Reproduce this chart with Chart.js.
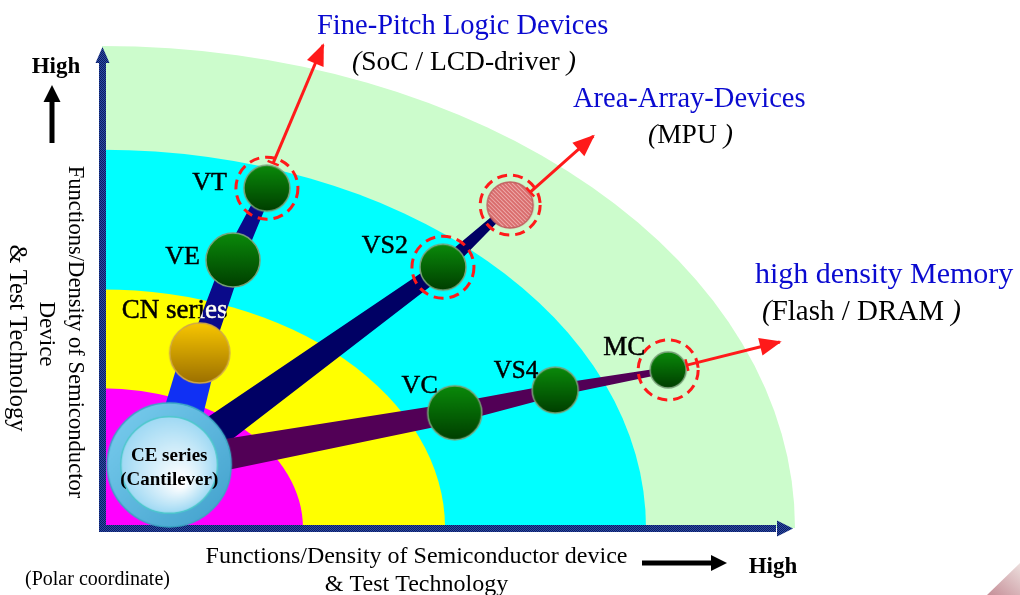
<!DOCTYPE html>
<html>
<head>
<meta charset="utf-8">
<script src="https://cdn.jsdelivr.net/npm/chart.js@4.4.1/dist/chart.umd.min.js"></script>
<style>
  html, body { margin: 0; padding: 0; background: #fff; }
  #wrap { width: 1020px; height: 595px; position: relative; }
</style>
</head>
<body>
<div id="wrap"><canvas id="chart" width="1020" height="595"></canvas></div>
<script>
// Dữ liệu (toạ độ cực: 0..100 trên cả hai trục)
const nodeNames  = ['CE', 'CN', 'VE', 'VT', 'VS2', 'MPU', 'VC', 'VS4', 'MC'];
const nodeX      = [9.7, 14.1, 18.9, 23.8, 49.2, 58.9, 50.9, 65.4, 81.7];
const nodeY      = [13.1, 36.3, 55.6, 70.5, 54.1, 67.0, 23.9, 28.6, 32.8];
const nodeLabels = ['', 'CN series', 'VE', 'VT', 'VS2', '', 'VC', 'VS4', 'MC'];
const ceLabel    = ['CE series', '(Cantilever)'];

const ringRadius = [100, 78.5, 49.5, 29];

// nhánh nối các node
const branches = [
  ['CE', 'CN'],
  ['CN', 'VE', 'VT'],
  ['CE', 'VS2', 'MPU'],
  ['CE', 'VC', 'VS4', 'MC']
];

// node được khoanh tròn
const targetNodes = ['VT', 'VS2', 'MPU', 'MC'];

// mũi tên đỏ
const arrowStartX = [24.7, 61.8, 84.4];
const arrowStartY = [75.7, 69.7, 33.8];
const arrowEndX   = [31.9, 70.9, 97.8];
const arrowEndY   = [100.2, 81.3, 38.6];
const arrowTitles    = ['Fine-Pitch Logic Devices', 'Area-Array-Devices', 'high density Memory'];
const arrowSubtitles = ['SoC / LCD-driver', 'MPU', 'Flash / DRAM'];

const axisTitleX = ['Functions/Density of Semiconductor device', '& Test Technology'];
const axisTitleY = ['Functions/Density of Semiconductor', 'Device', '& Test Technology'];

// Kiểu dáng
const ringColors   = ['#ccfccc', '#00ffff', '#ffff00', '#ff00ff'];
const branchColors = ['#1030f4', '#0a0a8a', '#000064', '#520056'];
const branchWidths = [[42, 36], [24, 20, 12], [36, 15, 6], [34, 20, 12, 6]];
const nodeRadius   = [62, 30, 27, 23, 23, 23, 27, 23, 18];
const labelOffset  = [null, [-25, -35, 'center'], [-33, 4, 'right'], [-40, 2, 'right'], [-35, -14, 'right'],
                      null, [-17, -20, 'right'], [-17, -12, 'right'], [-23, -15, 'right']];
const labelSize    = [0, 27, 26, 26, 26, 0, 26, 25, 27];
const titlePos     = [[317, 34, 352, 70], [573, 107, 648, 143], [755, 283, 762, 320]];
const titleSize    = [[28.5, 27.5], [28.5, 27.5], [30, 29]];
const yTitlePos    = [[75, 332, 22.6], [46, 334, 23], [16, 338, 24.5]];
const SERIF = '"Liberation Serif", "DejaVu Serif", serif';
const RED = '#ff1a1a';

// Hàm vẽ quả cầu
function makeBall(r, c1, c2, rim) {
  const s = 2 * r + 4;
  const cv = document.createElement('canvas');
  cv.width = cv.height = s;
  const g = cv.getContext('2d');
  const grd = g.createLinearGradient(0, 2, 0, s - 2);
  grd.addColorStop(0, c1);
  grd.addColorStop(1, c2);
  g.beginPath();
  g.arc(s / 2, s / 2, r, 0, Math.PI * 2);
  g.fillStyle = grd;
  g.fill();
  g.lineWidth = 1.5;
  g.strokeStyle = rim;
  g.stroke();
  return cv;
}

function makeHatchBall(r) {
  const s = 2 * r + 4;
  const cv = document.createElement('canvas');
  cv.width = cv.height = s;
  const g = cv.getContext('2d');
  g.save();
  g.beginPath();
  g.arc(s / 2, s / 2, r, 0, Math.PI * 2);
  g.clip();
  g.fillStyle = '#f6c4c4';
  g.fillRect(0, 0, s, s);
  g.strokeStyle = '#d86a6a';
  g.lineWidth = 2;
  for (let k = -s; k < 2 * s; k += 4) {
    g.beginPath();
    g.moveTo(k, 0);
    g.lineTo(k + s, s);
    g.stroke();
  }
  g.restore();
  g.beginPath();
  g.arc(s / 2, s / 2, r, 0, Math.PI * 2);
  g.lineWidth = 1.5;
  g.strokeStyle = '#c26060';
  g.stroke();
  return cv;
}

function makeCeBall(r) {
  const s = 2 * r + 4, c = s / 2;
  const cv = document.createElement('canvas');
  cv.width = cv.height = s;
  const g = cv.getContext('2d');
  const outer = g.createLinearGradient(0, 0, s, s);
  outer.addColorStop(0, '#7ccff0');
  outer.addColorStop(1, '#3f9fcb');
  g.beginPath();
  g.arc(c, c, r, 0, Math.PI * 2);
  g.fillStyle = outer;
  g.fill();
  g.lineWidth = 1.5;
  g.strokeStyle = '#3aa7c4';
  g.stroke();
  const ri = r * 0.78;
  const inner = g.createRadialGradient(c + 12, c + 18, 4, c, c, ri);
  inner.addColorStop(0, '#ffffff');
  inner.addColorStop(1, '#9fd9f4');
  g.beginPath();
  g.arc(c, c, ri, 0, Math.PI * 2);
  g.fillStyle = inner;
  g.fill();
  g.lineWidth = 1.5;
  g.strokeStyle = '#4cc8cc';
  g.stroke();
  return cv;
}

const nodeStyles = nodeNames.map((n, i) => {
  if (n === 'CE') return makeCeBall(nodeRadius[i]);
  if (n === 'CN') return makeBall(nodeRadius[i], '#f8c600', '#9c7000', '#d0a848');
  if (n === 'MPU') return makeHatchBall(nodeRadius[i]);
  return makeBall(nodeRadius[i], '#0a8a0a', '#003e00', '#7aa27a');
});

const idx = name => nodeNames.indexOf(name);

// Plugin: vòng nền, trục, các nhánh
const backdropPlugin = {
  id: 'backdrop',
  beforeDatasetsDraw(chart) {
    const { ctx, chartArea: a, scales: { x, y } } = chart;
    const ox = x.getPixelForValue(0), oy = y.getPixelForValue(0);
    ctx.save();
    ringRadius.forEach((r, i) => {
      const rx = x.getPixelForValue(r) - ox, ry = oy - y.getPixelForValue(r);
      ctx.beginPath();
      ctx.moveTo(ox, oy);
      ctx.ellipse(ox, oy, rx, ry, 0, -Math.PI / 2, 0);
      ctx.closePath();
      ctx.fillStyle = ringColors[i];
      ctx.fill();
    });

    // trục hoạ tiết ô vuông
    const pc = document.createElement('canvas');
    pc.width = pc.height = 2;
    const pg = pc.getContext('2d');
    pg.fillStyle = '#2b4ba8'; pg.fillRect(0, 0, 2, 2);
    pg.fillStyle = '#0d1d5e'; pg.fillRect(0, 0, 1, 1); pg.fillRect(1, 1, 1, 1);
    const pat = ctx.createPattern(pc, 'repeat');
    ctx.fillStyle = pat;
    ctx.fillRect(ox - 3, a.top + 16, 7, oy - a.top - 12);
    ctx.fillRect(ox - 3, oy - 3, a.right - 16 - ox, 7);
    ctx.beginPath();
    ctx.moveTo(ox - 6.5, a.top + 17); ctx.lineTo(ox + 0.5, a.top + 1); ctx.lineTo(ox + 7.5, a.top + 17);
    ctx.closePath(); ctx.fill();
    ctx.beginPath();
    ctx.moveTo(a.right - 18, oy - 7.5); ctx.lineTo(a.right - 2, oy + 0.5); ctx.lineTo(a.right - 18, oy + 8.5);
    ctx.closePath(); ctx.fill();

    // các nhánh thuôn nhỏ dần
    chart.$barPaths = [];
    branches.forEach((br, bi) => {
      const pts = br.map(n => ({ x: x.getPixelForValue(nodeX[idx(n)]), y: y.getPixelForValue(nodeY[idx(n)]) }));
      const w = branchWidths[bi];
      const left = [], right = [];
      pts.forEach((p, i) => {
        const a0 = pts[Math.max(0, i - 1)], b0 = pts[Math.min(pts.length - 1, i + 1)];
        let dx = b0.x - a0.x, dy = b0.y - a0.y;
        const L = Math.hypot(dx, dy); dx /= L; dy /= L;
        const h = w[i] / 2;
        left.push([p.x - dy * h, p.y + dx * h]);
        right.push([p.x + dy * h, p.y - dx * h]);
      });
      const path = new Path2D();
      path.moveTo(left[0][0], left[0][1]);
      left.slice(1).forEach(q => path.lineTo(q[0], q[1]));
      right.reverse().forEach(q => path.lineTo(q[0], q[1]));
      path.closePath();
      ctx.fillStyle = branchColors[bi];
      ctx.fill(path);
      chart.$barPaths.push(path);
    });
    ctx.restore();
  },
  beforeDatasetDraw(chart, args) {
    if (chart.data.datasets[args.index].dashed) {
      chart.ctx.save();
      chart.ctx.setLineDash([10, 6]);
    }
  },
  afterDatasetDraw(chart, args) {
    if (chart.data.datasets[args.index].dashed) chart.ctx.restore();
  }
};

// Plugin: đầu mũi tên và chữ
function richText(ctx, parts, x, yb, size) {
  let cx = x;
  parts.forEach(p => {
    ctx.font = (p.it ? 'italic ' : '') + size + 'px ' + SERIF;
    ctx.fillText(p.t, cx, yb);
    cx += ctx.measureText(p.t).width;
  });
}

function arrow(ctx, x1, y1, x2, y2, len, half, color, lw) {
  const ang = Math.atan2(y2 - y1, x2 - x1);
  const bx = x2 - Math.cos(ang) * len, by = y2 - Math.sin(ang) * len;
  ctx.strokeStyle = color; ctx.fillStyle = color; ctx.lineWidth = lw;
  ctx.beginPath(); ctx.moveTo(x1, y1); ctx.lineTo(bx, by); ctx.stroke();
  ctx.beginPath();
  ctx.moveTo(x2, y2);
  ctx.lineTo(bx - Math.sin(ang) * half, by + Math.cos(ang) * half);
  ctx.lineTo(bx + Math.sin(ang) * half, by - Math.cos(ang) * half);
  ctx.closePath(); ctx.fill();
}

const labelPlugin = {
  id: 'labels',
  afterDatasetsDraw(chart) {
    const { ctx, chartArea: a } = chart;
    ctx.save();
    // đầu mũi tên đỏ
    chart.data.datasets.forEach((ds, di) => {
      if (!ds.isArrow) return;
      const pts = chart.getDatasetMeta(di).data;
      const p0 = pts[0], p1 = pts[pts.length - 1];
      const ang = Math.atan2(p1.y - p0.y, p1.x - p0.x);
      ctx.fillStyle = RED;
      const len = 20, half = 9;
      const bx = p1.x - Math.cos(ang) * len, by = p1.y - Math.sin(ang) * len;
      ctx.beginPath();
      ctx.moveTo(p1.x + Math.cos(ang) * 2, p1.y + Math.sin(ang) * 2);
      ctx.lineTo(bx - Math.sin(ang) * half, by + Math.cos(ang) * half);
      ctx.lineTo(bx + Math.sin(ang) * half, by - Math.cos(ang) * half);
      ctx.closePath(); ctx.fill();
      // vạch ngắn ở gốc
      ctx.strokeStyle = RED; ctx.lineWidth = 2.5;
      ctx.beginPath();
      ctx.moveTo(p0.x - Math.sin(ang) * 6, p0.y + Math.cos(ang) * 6);
      ctx.lineTo(p0.x + Math.sin(ang) * 6, p0.y - Math.cos(ang) * 6);
      ctx.stroke();
    });

    // nhãn node
    const nodes = chart.getDatasetMeta(chart.data.datasets.findIndex(d => d.isNodes)).data;
    ctx.textBaseline = 'alphabetic';
    ctx.lineWidth = 0.5;
    ctx.strokeStyle = '#000';
    nodeLabels.forEach((t, i) => {
      if (!t) return;
      const [dx, dy, al] = labelOffset[i];
      const tx = nodes[i].x + dx, ty = nodes[i].y + dy;
      ctx.font = labelSize[i] + 'px ' + SERIF;
      ctx.textAlign = al;
      ctx.fillStyle = '#000';
      ctx.fillText(t, tx, ty);
      ctx.strokeText(t, tx, ty);
      if (nodeNames[i] === 'CN') {
        ctx.save();
        ctx.clip(chart.$barPaths[1]);
        ctx.fillStyle = '#fff';
        ctx.strokeStyle = '#fff';
        ctx.fillText(t, tx, ty);
        ctx.strokeText(t, tx, ty);
        ctx.restore();
      }
    });
    const ce = nodes[idx('CE')];
    ctx.font = 'bold 19px ' + SERIF;
    ctx.textAlign = 'center';
    ctx.fillStyle = '#000';
    ctx.fillText(ceLabel[0], ce.x, ce.y - 4);
    ctx.fillText(ceLabel[1], ce.x, ce.y + 20);

    // tiêu đề các hướng phát triển
    ctx.textAlign = 'left';
    arrowTitles.forEach((t, i) => {
      const [tx, ty, sx, sy] = titlePos[i];
      ctx.font = titleSize[i][0] + 'px ' + SERIF;
      ctx.fillStyle = '#0a0ad0';
      ctx.fillText(t, tx, ty);
      ctx.fillStyle = '#000';
      richText(ctx, [{ t: '(', it: true }, { t: arrowSubtitles[i] }, { t: ' )', it: true }], sx, sy, titleSize[i][1]);
    });

    // tiêu đề trục X
    ctx.fillStyle = '#000';
    ctx.textAlign = 'center';
    ctx.font = '24px ' + SERIF;
    const cx = (a.left + a.right) / 2 - 32;
    ctx.fillText(axisTitleX[0], cx, a.bottom + 35);
    ctx.fillText(axisTitleX[1], cx, a.bottom + 63);
    arrow(ctx, 642, 563, 727, 563, 16, 8, '#000', 5);
    ctx.font = 'bold 23px ' + SERIF;
    ctx.fillText('High', 773, 573);
    ctx.font = '20px ' + SERIF;
    ctx.textAlign = 'left';
    ctx.fillText('(Polar coordinate)', 25, 585);

    // tiêu đề trục Y (xoay 90 độ)
    ctx.textAlign = 'center';
    ctx.textBaseline = 'middle';
    yTitlePos.forEach(([px, py, fs], i) => {
      ctx.save();
      ctx.font = fs + 'px ' + SERIF;
      ctx.translate(px, py);
      ctx.rotate(Math.PI / 2);
      ctx.fillText(axisTitleY[i], 0, 0);
      ctx.restore();
    });
    ctx.textBaseline = 'alphabetic';
    ctx.font = 'bold 23px ' + SERIF;
    ctx.fillText('High', 56, 73);
    arrow(ctx, 52, 143, 52, 85, 17, 8.5, '#000', 5);

    // góc trang trí dưới phải
    const tg = ctx.createLinearGradient(990, 595, 1020, 560);
    tg.addColorStop(0, '#c7919a');
    tg.addColorStop(1, '#eee2e0');
    ctx.fillStyle = tg;
    ctx.beginPath();
    ctx.moveTo(987, 595); ctx.lineTo(1020, 563); ctx.lineTo(1020, 595);
    ctx.closePath(); ctx.fill();
    ctx.restore();
  }
};

const nodePoints = nodeNames.map((n, i) => ({ x: nodeX[i], y: nodeY[i] }));
const targetPoints = targetNodes.map(n => ({ x: nodeX[idx(n)], y: nodeY[idx(n)] }));
const targetRadius = [31, 31, 30, 30];

const arrowSets = arrowStartX.map((sx, i) => ({
  type: 'line',
  isArrow: true,
  data: [{ x: sx, y: arrowStartY[i] }, { x: arrowEndX[i], y: arrowEndY[i] }],
  borderColor: RED,
  borderWidth: 3,
  pointRadius: 0,
  showLine: true,
  fill: false,
  clip: false,
  order: 3
}));

new Chart(document.getElementById('chart').getContext('2d'), {
  type: 'scatter',
  data: {
    datasets: [
      {
        isNodes: true,
        data: nodePoints,
        pointStyle: nodeStyles,
        pointRadius: nodeRadius,
        clip: false,
        order: 1
      },
      {
        dashed: true,
        data: targetPoints,
        pointStyle: 'circle',
        pointRadius: targetRadius,
        backgroundColor: 'rgba(0,0,0,0)',
        borderColor: RED,
        borderWidth: 3,
        clip: false,
        order: 2
      },
      ...arrowSets
    ]
  },
  options: {
    responsive: false,
    animation: false,
    events: [],
    layout: { autoPadding: false, padding: { left: 102, right: 225, top: 46, bottom: 67 } },
    plugins: { legend: { display: false }, tooltip: { enabled: false } },
    scales: {
      x: { type: 'linear', min: 0, max: 100, display: false },
      y: { type: 'linear', min: 0, max: 100, display: false }
    }
  },
  plugins: [backdropPlugin, labelPlugin]
});
</script>
</body>
</html>
